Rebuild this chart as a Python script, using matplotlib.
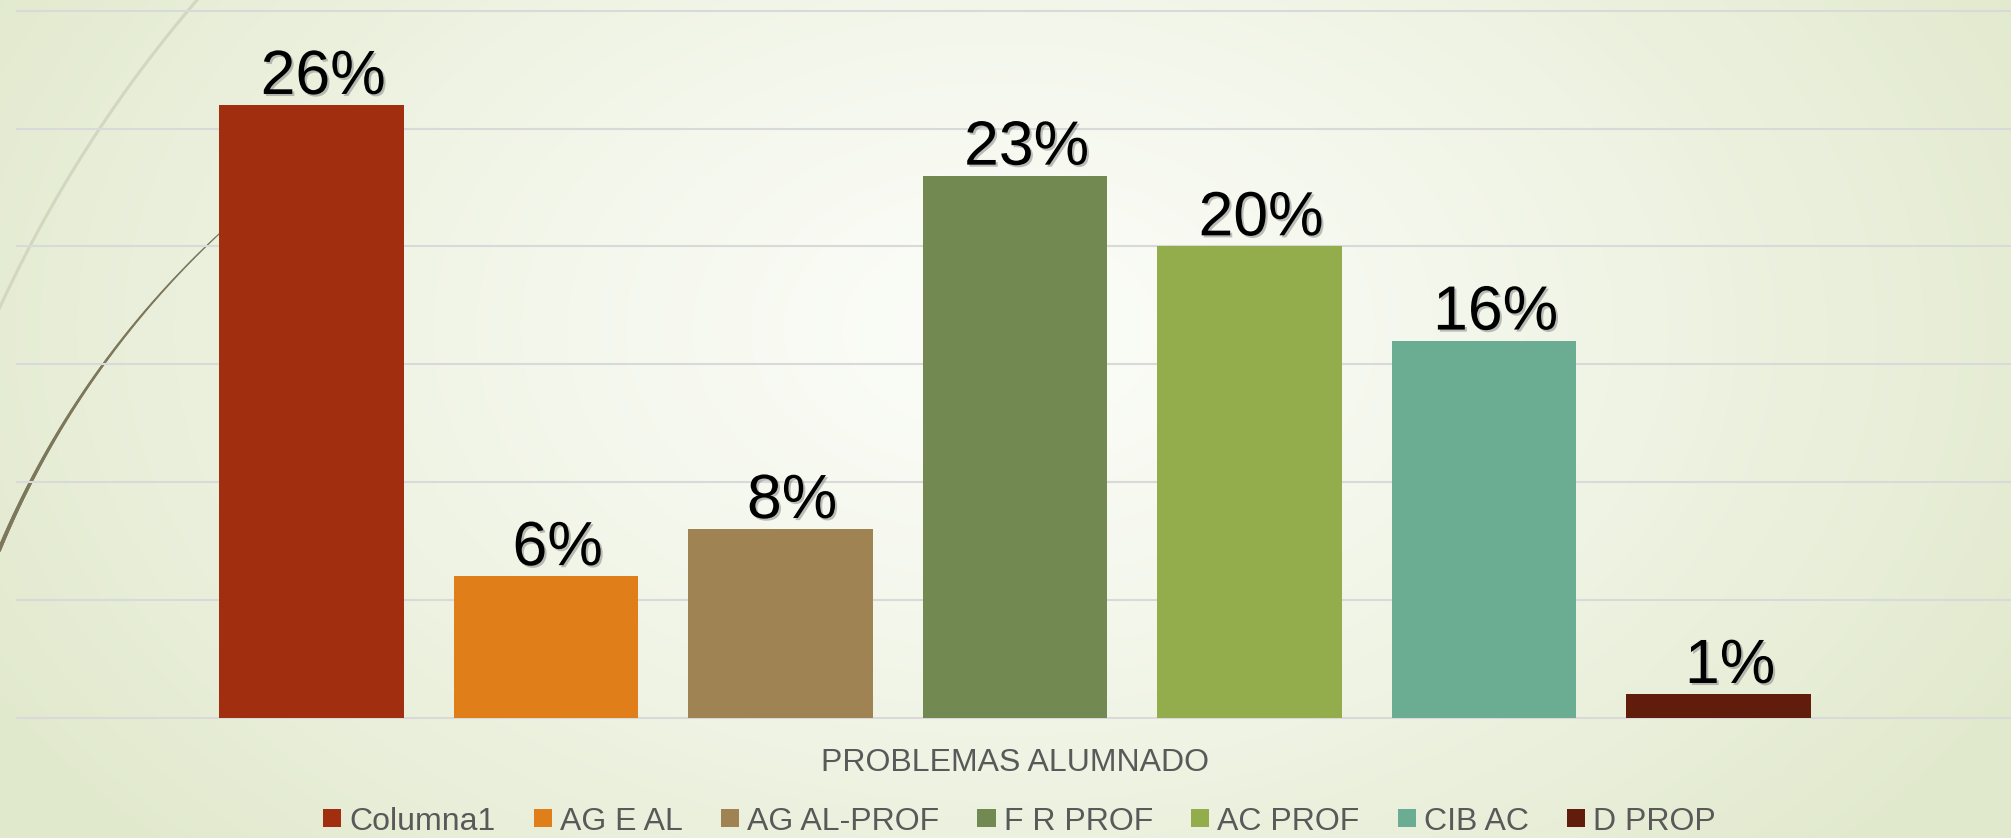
import numpy as np
import matplotlib
matplotlib.use("Agg")
import matplotlib.pyplot as plt
from matplotlib.patches import Patch
from matplotlib.collections import LineCollection
import matplotlib.patheffects as pe

# ---------------- data ----------------
category = "PROBLEMAS ALUMNADO"
series = ["Columna1", "AG E AL", "AG AL-PROF", "F R PROF", "AC PROF", "CIB AC", "D PROP"]
values = [26, 6, 8, 23, 20, 16, 1]
value_labels = ["26%", "6%", "8%", "23%", "20%", "16%", "1%"]
colors = ["#A22E10", "#E07E1A", "#A08352", "#728A52", "#93AC4C", "#6AAD92", "#621C0C"]
yticks = [0, 5, 10, 15, 20, 25, 30]

# ---------------- figure ----------------
W, H = 2011, 838
fig = plt.figure(figsize=(W / 100, H / 100), dpi=100)

# background gradient (slide theme)
bg = fig.add_axes([0, 0, 1, 1], zorder=0)
bg.set_xlim(0, W)
bg.set_ylim(H, 0)
bg.axis("off")
yy, xx = np.mgrid[0:H:2, 0:W:2]
d = np.sqrt(((xx - 1000) / 1150.0) ** 2 + ((yy - 330) / 760.0) ** 2)
t = np.clip(d, 0, 1) ** 1.3
c0 = np.array([0.985, 0.990, 0.972])
c1 = np.array([0.885, 0.915, 0.805])
img = c0 + (c1 - c0) * t[..., None]
bg.imshow(img, extent=(0, W, H, 0), aspect="auto", interpolation="bilinear")


def circle_through(p1, p2, p3):
    (x1, y1), (x2, y2), (x3, y3) = p1, p2, p3
    A = np.array([[x2 - x1, y2 - y1], [x3 - x1, y3 - y1]], float) * 2
    b = np.array([x2**2 - x1**2 + y2**2 - y1**2, x3**2 - x1**2 + y3**2 - y1**2], float)
    cx, cy = np.linalg.solve(A, b)
    r = np.hypot(x1 - cx, y1 - cy)
    return cx, cy, r


def arc_points(p1, p2, p3, ext=0.04, n=300):
    cx, cy, r = circle_through(p1, p2, p3)
    a1 = np.arctan2(p1[1] - cy, p1[0] - cx)
    a2 = np.arctan2(p2[1] - cy, p2[0] - cx)
    a3 = np.arctan2(p3[1] - cy, p3[0] - cx)
    a2 = a1 + ((a2 - a1 + np.pi) % (2 * np.pi) - np.pi)
    a3 = a2 + ((a3 - a2 + np.pi) % (2 * np.pi) - np.pi)
    s = np.sign(a3 - a1)
    th = np.linspace(a1 - s * ext, a3 + s * ext, n)
    return cx + r * np.cos(th), cy + r * np.sin(th)


# light decorative arc
lx, ly = arc_points((0, 307), (100, 128), (197, 0), ext=0.05)
bg.plot(lx, ly, color="#d2d7bf", lw=2.2, solid_capstyle="butt")

# dark decorative arc (tapering)
dx, dy = arc_points((0, 548), (100, 369), (219, 234), ext=0.03)
pts = np.column_stack([dx, dy]).reshape(-1, 1, 2)
segs = np.concatenate([pts[:-1], pts[1:]], axis=1)
lc = LineCollection(segs, colors="#7d785c", linewidths=np.linspace(3.0, 0.7, len(segs)),
                    capstyle="round")
bg.add_collection(lc)

# ---------------- chart ----------------
left, right = 17, W
top, base = 10.7, 717.5
ax = fig.add_axes([left / W, 1 - base / H, (right - left) / W, (base - top) / H], zorder=1)
ax.patch.set_alpha(0)

x = np.arange(len(series))
bars = ax.bar(x, values, width=0.7876, color=colors, zorder=2, label=None)
ax.set_xlim(-1.2555, 7.248)
ax.set_ylim(0, 30)
ax.set_yticks(yticks)
ax.yaxis.grid(True, color="#d9d9d9", lw=1.5)
ax.set_axisbelow(True)
for gl in ax.get_ygridlines():
    gl.set_clip_on(False)
ax.tick_params(left=False, labelleft=False, bottom=False, labelbottom=False)
for s in ax.spines.values():
    s.set_visible(False)

shadow = [pe.withSimplePatchShadow(offset=(1.5, -1.5), shadow_rgbFace="0.45", alpha=0.45)]
for xi, v, lab in zip(x, values, value_labels):
    ax.annotate(lab, (xi, v), xytext=(8.5, 7.9), textcoords="offset points",
                ha="center", va="baseline", fontsize=45, family="Liberation Sans",
                color="black", path_effects=shadow, zorder=3)

# category (axis) title
fig.text(1015 / W, 1 - 770.7 / H, category, ha="center", va="baseline",
         fontsize=23, family="Liberation Sans", color="#595959")

# legend
handles = [Patch(facecolor=c, edgecolor="none") for c in colors]
leg = fig.legend(handles, series, loc="center", bbox_to_anchor=(1019.5 / W, 1 - 821.5 / H),
                 ncol=len(series), frameon=False, borderpad=0, borderaxespad=0,
                 handlelength=0.564, handleheight=0.467, handletextpad=0.25,
                 columnspacing=1.2, prop={"family": "Liberation Sans", "size": 23})
for txt in leg.get_texts():
    txt.set_color("#595959")

fig.savefig("out.png", dpi=100)
